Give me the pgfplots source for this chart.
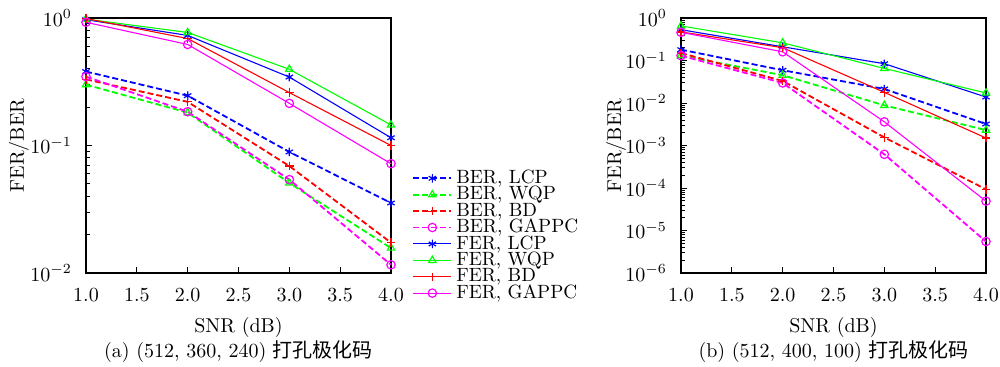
\documentclass[border=0pt]{standalone}
\usepackage{fontspec}
\usepackage{pgfplots}
\usepackage{pgfplotstable}
\pgfplotsset{compat=1.18}
\newfontfamily\cjk{Noto Sans CJK SC}

\pgfplotstableread{
x  berlcp berwqp berbd bergappc ferlcp ferwqp ferbd fergappc
1  0.38   0.30   0.33  0.347    0.97   0.98   0.99  0.925
2  0.246  0.181  0.22  0.184    0.73   0.77   0.69  0.62
3  0.089  0.0508 0.069 0.054    0.344  0.396  0.26  0.214
4  0.0354 0.0157 0.0173 0.0116  0.115  0.145  0.10  0.072
}\dataA

\pgfplotstableread{
x  berlcp berwqp berbd   bergappc ferlcp ferwqp ferbd  fergappc
1  0.18   0.13   0.15    0.13     0.53   0.65   0.47   0.46
2  0.059  0.045  0.033   0.0296   0.21   0.26   0.20   0.16
3  0.0214 0.0088 0.00155 0.00062  0.084  0.065  0.0178 0.0036
4  0.0032 0.0023 9.3e-5  5.5e-6   0.0138 0.0172 0.0015 4.9e-5
}\dataB

\definecolor{cblue}{rgb}{0,0,1}
\definecolor{cgreen}{rgb}{0,1,0}
\definecolor{cred}{rgb}{1,0,0}
\definecolor{cmag}{rgb}{1,0,1}

\pgfplotsset{
  myax/.style={
    scale only axis, width=152.5pt, height=127.5pt,
    xmin=1, xmax=4,
    xtick={1,1.5,2,2.5,3,3.5,4},
    xticklabel={\pgfmathprintnumber[fixed,fixed zerofill,precision=1]{\tick}},
    x tick label style={yshift=-4.5pt},
    y tick label style={xshift=-3.5pt},
    tick pos=left,
    major tick length=3pt, minor tick length=2pt,
    tick style={black, line width=0.4pt},
    axis line style={black, line width=0.6pt},
    xlabel={SNR (dB)}, ylabel={FER/BER},
    xlabel style={at={(axis description cs:0.5,-0.235)}, anchor=base},
  },
  berst/.style={line width=0.9pt, dash pattern=on 3pt off 1.5pt, mark options={solid, line width=0.6pt}, mark size=2.1pt},
  ferst/.style={line width=0.55pt, mark options={solid, line width=0.6pt}, mark size=2.1pt},
}

\begin{document}
\begin{tikzpicture}
\begin{semilogyaxis}[myax, name=axa, at={(43pt,47pt)}, anchor=south west,
  ymin=1e-2, ymax=1, ytick={1e-2,1e-1,1},
  ylabel style={at={(axis description cs:-0.22,0.5)}, anchor=center},
  legend cell align=left,
  legend style={draw=none, fill=none, at={(axis description cs:1.069,0.405)}, anchor=north west,
    inner sep=0pt, row sep=0pt,
    nodes={inner xsep=2pt, inner ysep=0.5pt, text height=6.2pt, text depth=1pt, font=\fontsize{9.6}{9.6}\selectfont}},
  legend image code/.code={\draw[mark repeat=2, mark phase=2] plot coordinates {(0pt,0pt) (9.5pt,0pt) (19pt,0pt)};},
]
\addplot[cblue, berst, mark=asterisk] table[x=x, y=berlcp] {\dataA};
\addplot[cgreen, berst, mark=triangle] table[x=x, y=berwqp] {\dataA};
\addplot[cred, berst, mark=+] table[x=x, y=berbd] {\dataA};
\addplot[cmag, berst, mark=o] table[x=x, y=bergappc] {\dataA};
\addplot[cblue, ferst, mark=asterisk] table[x=x, y=ferlcp] {\dataA};
\addplot[cgreen, ferst, mark=triangle] table[x=x, y=ferwqp] {\dataA};
\addplot[cred, ferst, mark=+] table[x=x, y=ferbd] {\dataA};
\addplot[cmag, ferst, mark=o] table[x=x, y=fergappc] {\dataA};
\legend{BER{,} LCP, BER{,} WQP, BER{,} BD, BER{,} GAPPC, FER{,} LCP, FER{,} WQP, FER{,} BD, FER{,} GAPPC}
\end{semilogyaxis}

\begin{semilogyaxis}[myax, name=axb, at={(340.5pt,47pt)}, anchor=south west,
  ymin=1e-6, ymax=1, ytick={1e-6,1e-5,1e-4,1e-3,1e-2,1e-1,1},
  ylabel style={at={(axis description cs:-0.213,0.5)}, anchor=center},
]
\addplot[cblue, berst, mark=asterisk] table[x=x, y=berlcp] {\dataB};
\addplot[cgreen, berst, mark=triangle] table[x=x, y=berwqp] {\dataB};
\addplot[cred, berst, mark=+] table[x=x, y=berbd] {\dataB};
\addplot[cmag, berst, mark=o] table[x=x, y=bergappc] {\dataB};
\addplot[cblue, ferst, mark=asterisk] table[x=x, y=ferlcp] {\dataB};
\addplot[cgreen, ferst, mark=triangle] table[x=x, y=ferwqp] {\dataB};
\addplot[cred, ferst, mark=+] table[x=x, y=ferbd] {\dataB};
\addplot[cmag, ferst, mark=o] table[x=x, y=fergappc] {\dataB};
\end{semilogyaxis}
\node[anchor=base] at (119.25pt,4.5pt) {(a) (512, 360, 240) {\cjk 打孔极化码}};
\node[anchor=base] at (416.75pt,4.5pt) {(b) (512, 400, 100) {\cjk 打孔极化码}};
\pgfresetboundingbox
\path (0,0) rectangle (500pt,183.5pt);
\end{tikzpicture}
\end{document}
